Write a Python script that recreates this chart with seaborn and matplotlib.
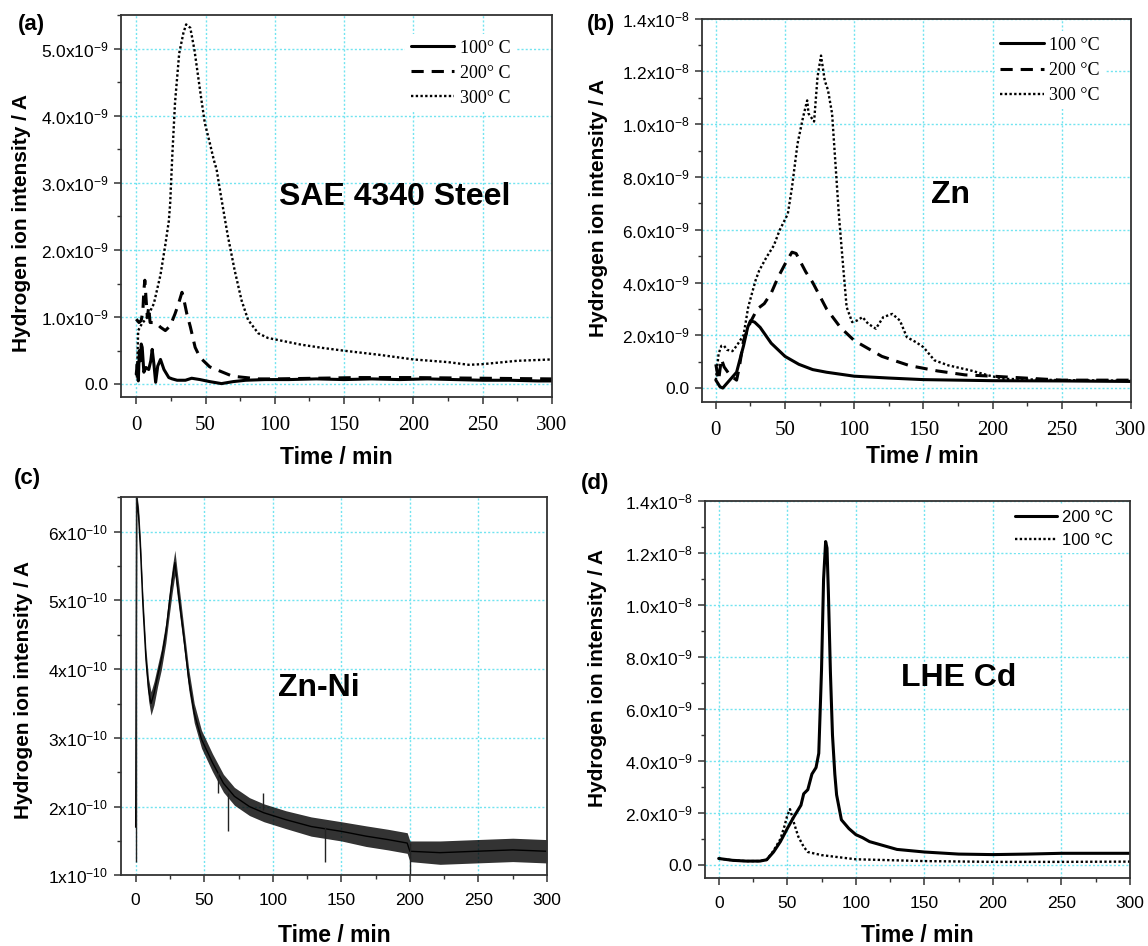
import numpy as np
import pandas as pd
import matplotlib
matplotlib.use("Agg")
import matplotlib.pyplot as plt
import seaborn as sns
from matplotlib.ticker import FixedLocator, FixedFormatter, MultipleLocator

# ---------------- data ----------------
NA9 = 1e-9    # values below stored in units of 1e-9 A
NA10 = 1e-10  # values below stored in units of 1e-10 A

# (a) SAE 4340 Steel
t_a100 = [0, 0.7, 1.5, 2.2, 3, 3.6, 4.3, 5.5, 7, 9, 10.5, 11.5, 12.7, 14, 15.5, 17.5, 20, 23.5, 26, 29.5,
          35.5, 40, 46, 53, 61.5, 70, 79, 93, 110, 130, 150, 170, 190, 210, 230, 250, 270, 290, 300]
y_a100 = [0.15, 0.3, 0.05, 0.5, 0.35, 0.6, 0.55, 0.18, 0.25, 0.22, 0.35, 0.52, 0.31, 0.03, 0.27, 0.37, 0.22, 0.1, 0.08, 0.06,
          0.06, 0.09, 0.07, 0.04, 0.01, 0.04, 0.06, 0.07, 0.07, 0.08, 0.07, 0.08, 0.07, 0.08, 0.07, 0.06, 0.06, 0.05, 0.05]
t_a200 = [0, 2, 3.6, 4.8, 5.5, 6.2, 7, 8, 9, 10, 14, 17.5, 21, 24.5, 28, 30.5, 33, 34, 36.5, 39,
          42.5, 46, 53, 60, 69.5, 79, 88, 100, 130, 160, 200, 250, 300]
y_a200 = [0.97, 0.92, 0.95, 1.1, 1.4, 1.55, 1.3, 1.0, 1.15, 0.92, 0.92, 0.85, 0.8, 0.87, 1.05, 1.2, 1.37, 1.3, 1.05, 0.86,
          0.55, 0.4, 0.26, 0.2, 0.12, 0.1, 0.08, 0.08, 0.09, 0.1, 0.1, 0.09, 0.08]
t_a300 = [0.5, 1.4, 4, 8, 12.7, 17.5, 21, 23.5, 24.5, 26, 28, 31, 34, 36, 39, 42, 47, 49.5, 53, 56,
          58, 61, 66, 71, 76, 80.7, 88, 95, 107, 119, 135, 150, 175, 200, 225, 240, 250, 275, 300]
y_a300 = [0.1, 0.8, 0.9, 1.0, 1.2, 1.63, 2.08, 2.43, 2.7, 3.4, 4.2, 4.93, 5.23, 5.36, 5.31, 4.98, 4.24, 3.89, 3.6, 3.34,
          3.2, 2.82, 2.22, 1.7, 1.25, 0.96, 0.76, 0.69, 0.64, 0.59, 0.54, 0.5, 0.44, 0.37, 0.33, 0.29, 0.3, 0.35, 0.37]

# (b) Zn
t_b100 = [0, 3, 5, 10, 15, 20, 23, 25, 28, 32, 40, 50, 60, 70, 80, 100, 125, 150, 200, 250, 300]
y_b100 = [0.3, 0.05, 0.0, 0.3, 0.6, 1.6, 2.3, 2.55, 2.5, 2.3, 1.7, 1.2, 0.9, 0.7, 0.6, 0.45, 0.38, 0.32, 0.28, 0.27, 0.25]
t_b200 = [0, 2, 4, 6, 10, 15, 17, 20, 25, 30, 35, 40, 45, 50, 55, 58, 60, 65, 70, 80,
          90, 100, 120, 140, 160, 180, 200, 250, 300]
y_b200 = [0.9, 0.3, 1.1, 0.8, 0.5, 0.3, 0.8, 1.8, 2.5, 3.0, 3.2, 3.6, 4.2, 4.7, 5.15, 5.1, 4.9, 4.4, 4.0, 3.0,
          2.3, 1.8, 1.2, 0.85, 0.65, 0.5, 0.45, 0.3, 0.3]
t_b300 = [0, 2, 4, 6, 8, 12, 15, 20, 23.4, 26, 28.7, 31.3, 36.6, 41.9, 46, 52, 55, 59, 63, 66,
          67, 71, 73.5, 76, 78.7, 81, 84, 86.6, 89, 92, 94.5, 98.5, 102, 106, 110, 115.6, 121, 127.5, 133, 138,
          144.6, 150, 158, 168, 184, 197, 208, 250, 300]
y_b300 = [0.3, 1.3, 1.6, 1.6, 1.45, 1.4, 1.6, 2.0, 3.07, 3.57, 4.08, 4.45, 4.96, 5.4, 5.97, 6.6, 7.6, 9.25, 10.26, 10.9,
          10.4, 10.1, 11.8, 12.6, 11.65, 11.3, 10.4, 8.37, 6.5, 4.6, 3.07, 2.5, 2.56, 2.69, 2.44, 2.25, 2.69, 2.81, 2.56, 1.93,
          1.74, 1.55, 1.05, 0.86, 0.67, 0.48, 0.35, 0.3, 0.28]

# (c) Zn-Ni : centre of the noisy trace and half-width of its noise band
t_c = [0, 0.8, 2.1, 3.5, 5.3, 7.5, 9.4, 11.2, 13.4, 16, 18.7, 22, 24.6, 26.7, 28.6, 30.2, 32, 34.7, 38.7, 42.7,
       48, 56, 64, 72, 83, 93.5, 109.5, 128, 150, 168, 184, 198, 200, 222, 248, 275, 300]
y_c = [1.7, 6.5, 6.23, 5.74, 4.92, 4.14, 3.7, 3.5, 3.65, 3.9, 4.14, 4.53, 4.97, 5.3, 5.55, 5.26, 4.97, 4.53, 3.85, 3.36,
       2.98, 2.64, 2.34, 2.15, 2.0, 1.91, 1.81, 1.71, 1.64, 1.57, 1.52, 1.47, 1.35, 1.33, 1.35, 1.37, 1.35]
hw_c = [0, 0.06, 0.12, 0.15, 0.15, 0.15, 0.16, 0.17, 0.17, 0.15, 0.15, 0.15, 0.17, 0.18, 0.18, 0.18, 0.17, 0.15, 0.15, 0.14,
        0.13, 0.13, 0.13, 0.13, 0.13, 0.13, 0.13, 0.14, 0.14, 0.15, 0.15, 0.15, 0.15, 0.17, 0.17, 0.17, 0.17]
spike_t = [0.3, 60, 67, 93, 138, 200]
spike_lo = [1.2, 2.2, 1.64, 1.95, 1.2, 1.0]
spike_hi = [6.5, 2.5, 2.2, 2.2, 1.7, 1.47]

# (d) LHE Cd
t_d200 = [0, 10, 20, 30, 35, 40, 45, 50, 55, 60, 62, 65, 68, 71, 73, 75, 76.5, 78, 79, 80,
          81.5, 83, 84.7, 86, 89.5, 95, 100, 105, 110, 120, 130, 150, 175, 200, 225, 250, 275, 300]
y_d200 = [0.25, 0.18, 0.15, 0.15, 0.2, 0.5, 0.9, 1.4, 1.87, 2.3, 2.74, 2.9, 3.5, 3.75, 4.3, 7.5, 11.0, 12.45, 12.2, 10.5,
          7.4, 5.0, 3.5, 2.7, 1.74, 1.4, 1.17, 1.05, 0.9, 0.75, 0.6, 0.5, 0.42, 0.4, 0.42, 0.45, 0.45, 0.45]
t_d100 = [0, 10, 20, 30, 35, 40, 45, 48, 50, 52, 55, 58, 62, 65, 75, 100, 150, 200, 250, 300]
y_d100 = [0.25, 0.18, 0.15, 0.15, 0.2, 0.55, 1.0, 1.5, 1.9, 2.15, 1.6, 1.1, 0.7, 0.5, 0.38, 0.22, 0.15, 0.12, 0.12, 0.13]

# ticks and labels
x_ticks = [0, 50, 100, 150, 200, 250, 300]
x_ticklabels = ["0", "50", "100", "150", "200", "250", "300"]
yt_a = [0, 1e-9, 2e-9, 3e-9, 4e-9, 5e-9]
ytl_a = ["0.0", r"$\mathregular{1.0x10^{-9}}$", r"$\mathregular{2.0x10^{-9}}$", r"$\mathregular{3.0x10^{-9}}$",
         r"$\mathregular{4.0x10^{-9}}$", r"$\mathregular{5.0x10^{-9}}$"]
yt_bd = [0, 2e-9, 4e-9, 6e-9, 8e-9, 1.0e-8, 1.2e-8, 1.4e-8]
ytl_bd = ["0.0", r"$\mathregular{2.0x10^{-9}}$", r"$\mathregular{4.0x10^{-9}}$", r"$\mathregular{6.0x10^{-9}}$",
          r"$\mathregular{8.0x10^{-9}}$", r"$\mathregular{1.0x10^{-8}}$", r"$\mathregular{1.2x10^{-8}}$",
          r"$\mathregular{1.4x10^{-8}}$"]
yt_c = [1e-10, 2e-10, 3e-10, 4e-10, 5e-10, 6e-10]
ytl_c = [r"$\mathregular{%dx10^{-10}}$" % k for k in [1, 2, 3, 4, 5, 6]]

legend_a = ["100° C", "200° C", "300° C"]
legend_b = ["100 °C", "200 °C", "300 °C"]
legend_d = ["200 °C", "100 °C"]
xlabel = "Time / min"
ylabel = "Hydrogen ion intensity / A"

# ---------------- style ----------------
sns.set_theme(style="ticks")
plt.rcParams["font.family"] = ["Liberation Sans", "DejaVu Sans"]
plt.rcParams.update({
    "text.color": "black", "axes.labelcolor": "black",
    "axes.edgecolor": "#333333", "axes.linewidth": 1.3,
    "xtick.color": "#333333", "ytick.color": "#333333",
    "xtick.labelcolor": "black", "ytick.labelcolor": "black",
    "xtick.direction": "out", "ytick.direction": "out",
    "xtick.major.size": 5, "ytick.major.size": 5,
    "xtick.minor.size": 3, "ytick.minor.size": 3,
    "xtick.major.width": 1.1, "ytick.major.width": 1.1,
    "xtick.minor.width": 1.0, "ytick.minor.width": 1.0,
})

GRID = "#72e4f0"
SOLID = dict(color="black", linewidth=2.2, linestyle="-")
DASH = dict(color="black", linewidth=2.2, linestyle=(0, (4, 2.6)))
DOT = dict(color="black", linewidth=1.7, linestyle=(0, (1, 1)))

fig = plt.figure(figsize=(11.48, 9.46), dpi=100)
ax_a = fig.add_axes([0.1054, 0.5803, 0.3754, 0.4038])
ax_b = fig.add_axes([0.6115, 0.5750, 0.3737, 0.4053])
ax_c = fig.add_axes([0.1054, 0.0747, 0.3711, 0.3996])
ax_d = fig.add_axes([0.6141, 0.0719, 0.3702, 0.3982])


def style_axes(ax, xlim, ylim, yt, ytl, yminor, serif_x, xfs, xpad, xl_pos, yl_pos):
    ax.set_xlim(*xlim)
    ax.set_ylim(*ylim)
    ax.xaxis.set_major_locator(FixedLocator(x_ticks))
    ax.xaxis.set_major_formatter(FixedFormatter(x_ticklabels))
    ax.xaxis.set_minor_locator(MultipleLocator(25))
    ax.yaxis.set_major_locator(FixedLocator(yt))
    ax.yaxis.set_major_formatter(FixedFormatter(ytl))
    ax.yaxis.set_minor_locator(MultipleLocator(yminor))
    ax.tick_params(axis="x", which="both", top=False, pad=xpad, labelsize=xfs)
    ax.tick_params(axis="y", which="both", right=False, pad=4, labelsize=12.5)
    if serif_x:
        for lb in ax.get_xticklabels():
            lb.set_fontfamily("Liberation Serif")
    ax.grid(True, which="major", color=GRID, linestyle=(0, (1.5, 1.5)), linewidth=1.0)
    ax.set_axisbelow(True)
    for s in ax.spines.values():
        s.set_visible(True)
    ax.set_xlabel(xlabel, fontsize=16.5, fontweight="bold")
    ax.set_ylabel(ylabel, fontsize=15, fontweight="bold")
    ax.xaxis.set_label_coords(*xl_pos)
    ax.xaxis.label.set_verticalalignment("center")
    ax.yaxis.set_label_coords(*yl_pos)
    ax.yaxis.label.set_verticalalignment("center")


# ---- (a)
sns.lineplot(x=t_a300, y=np.array(y_a300) * NA9, ax=ax_a, label=legend_a[2], **DOT)
sns.lineplot(x=t_a200, y=np.array(y_a200) * NA9, ax=ax_a, label=legend_a[1], **DASH)
sns.lineplot(x=t_a100, y=np.array(y_a100) * NA9, ax=ax_a, label=legend_a[0], **SOLID)
style_axes(ax_a, (-11, 300), (-0.19e-9, 5.5e-9), yt_a, ytl_a, 0.5e-9, True, 15, 9,
           (0.50, -0.157), (-0.23, 0.455))
h, l = ax_a.get_legend_handles_labels()
ax_a.legend(h[::-1], l[::-1], loc="upper left", bbox_to_anchor=(0.66, 0.95), frameon=True,
            facecolor="white", edgecolor="none", framealpha=1, borderpad=0.3, borderaxespad=0,
            handlelength=2.4, handletextpad=0.3, labelspacing=0.45,
            prop={"family": "Liberation Serif", "size": 13})
ax_a.text(0.636, 0.524, "SAE 4340 Steel", transform=ax_a.transAxes, ha="center", va="center",
          fontsize=23, fontweight="bold")

# ---- (b)
sns.lineplot(x=t_b300, y=np.array(y_b300) * NA9, ax=ax_b, label=legend_b[2], **DOT)
sns.lineplot(x=t_b200, y=np.array(y_b200) * NA9, ax=ax_b, label=legend_b[1], **DASH)
sns.lineplot(x=t_b100, y=np.array(y_b100) * NA9, ax=ax_b, label=legend_b[0], **SOLID)
style_axes(ax_b, (-10, 300), (-0.53e-9, 1.4e-8), yt_bd, ytl_bd, 1e-9, True, 15, 9,
           (0.514, -0.142), (-0.242, 0.507))
h, l = ax_b.get_legend_handles_labels()
ax_b.legend(h[::-1], l[::-1], loc="upper left", bbox_to_anchor=(0.683, 0.967), frameon=True,
            facecolor="white", edgecolor="none", framealpha=1, borderpad=0.3, borderaxespad=0,
            handlelength=2.4, handletextpad=0.3, labelspacing=0.45,
            prop={"family": "Liberation Serif", "size": 13})
ax_b.text(0.58, 0.539, "Zn", transform=ax_b.transAxes, ha="center", va="center",
          fontsize=23, fontweight="bold")

# ---- (c)  noisy trace: band between centre-hw and centre+hw
yc = np.array(y_c)
hw = np.array(hw_c)
df_c = pd.DataFrame({
    "t": np.concatenate([t_c, t_c]),
    "I": np.concatenate([yc - hw, yc + hw]) * NA10,
})
sns.lineplot(data=df_c, x="t", y="I", ax=ax_c, color="black", linewidth=1.0,
             estimator="mean", errorbar=("pi", 100), err_kws={"alpha": 0.8, "linewidth": 0})
ax_c.vlines(spike_t, np.array(spike_lo) * NA10, np.array(spike_hi) * NA10, color="#222222", linewidth=1.0)
style_axes(ax_c, (-10.7, 300), (1e-10, 6.5e-10), yt_c, ytl_c, 0.5e-10, False, 12.5, 8,
           (0.50, -0.16), (-0.228, 0.49))
ax_c.text(0.465, 0.495, "Zn-Ni", transform=ax_c.transAxes, ha="center", va="center",
          fontsize=23, fontweight="bold")

# ---- (d)
sns.lineplot(x=t_d200, y=np.array(y_d200) * NA9, ax=ax_d, label=legend_d[0], **SOLID)
sns.lineplot(x=t_d100, y=np.array(y_d100) * NA9, ax=ax_d, label=legend_d[1], **DOT)
style_axes(ax_d, (-10, 300), (-0.5e-9, 1.4e-8), yt_bd, ytl_bd, 1e-9, False, 12.5, 8,
           (0.50, -0.154), (-0.252, 0.53))
ax_d.legend(loc="upper left", bbox_to_anchor=(0.718, 0.99), frameon=True,
            facecolor="white", edgecolor="none", framealpha=1, borderpad=0.3, borderaxespad=0,
            handlelength=2.5, handletextpad=0.3, labelspacing=0.45,
            prop={"family": "Liberation Sans", "size": 12})
ax_d.text(0.597, 0.531, "LHE Cd", transform=ax_d.transAxes, ha="center", va="center",
          fontsize=23, fontweight="bold")

# panel letters
for txt, x, y in [("(a)", 0.027, 0.974), ("(b)", 0.5235, 0.974), ("(c)", 0.024, 0.4947), ("(d)", 0.518, 0.489)]:
    fig.text(x, y, txt, ha="center", va="center", fontsize=16, fontweight="bold")

fig.savefig("out.png", dpi=100)
